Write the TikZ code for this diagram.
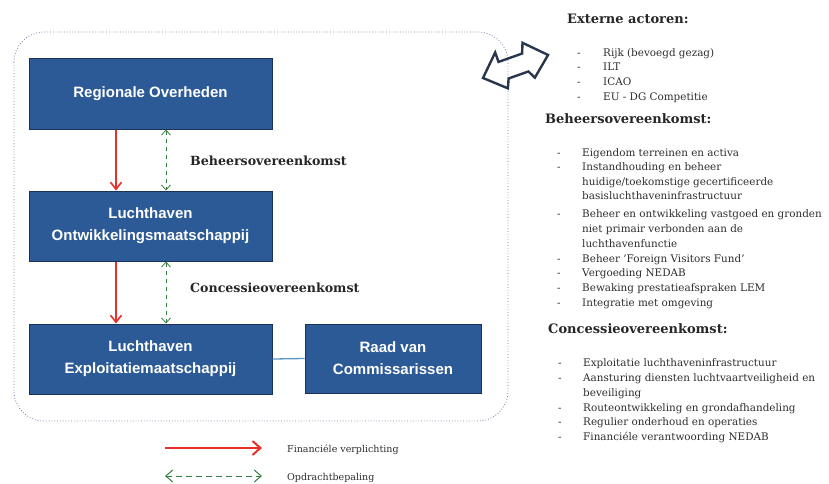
\documentclass[tikz,border=0pt]{standalone}
\usepackage{fontspec}
\setmainfont{DejaVu Serif}
\setsansfont{Liberation Sans}
\usetikzlibrary{arrows.meta}
\definecolor{boxblue}{RGB}{44,90,150}
\definecolor{boxedge}{RGB}{26,50,88}
\definecolor{redarr}{RGB}{232,48,42}
\definecolor{greenarr}{RGB}{52,128,62}
\definecolor{linkblue}{RGB}{90,150,200}
\definecolor{framecol}{RGB}{110,125,160}
\definecolor{txt}{RGB}{45,45,45}
\definecolor{arrowline}{RGB}{40,55,75}
\tikzset{
  orgbox/.style={draw=boxedge, line width=1pt, fill=boxblue, text=white,
    font=\sffamily\bfseries\fontsize{15}{22}\selectfont, align=center, inner sep=0},
  finarrow/.style={draw=redarr, line width=1.6pt, -{Straight Barb[length=7pt,width=11pt,line width=1.6pt]}},
  taskarrow/.style={draw=greenarr, line width=0.8pt, dash pattern=on 4.5pt off 3.5pt,
    {Straight Barb[length=5pt,width=9pt,line width=0.8pt]}-{Straight Barb[length=5pt,width=9pt,line width=0.8pt]}},
  legtask/.style={draw=greenarr, line width=1pt, dash pattern=on 6pt off 4pt,
    {Straight Barb[length=7pt,width=12pt,line width=1pt]}-{Straight Barb[length=7pt,width=12pt,line width=1pt]}},
  head/.style={anchor=base west, inner sep=0, text=black!85, font=\bfseries\fontsize{13}{15}\selectfont},
  lbl/.style={anchor=base west, inner sep=0, text=black!85, font=\bfseries\fontsize{12.6}{15}\selectfont},
  item/.style={anchor=base west, inner sep=0, text=txt, font=\fontsize{10.4}{13}\selectfont},
  legtext/.style={anchor=base west, inner sep=0, text=txt, font=\fontsize{9.5}{11}\selectfont},
}
\begin{document}
\begin{tikzpicture}[x=1pt,y=-1pt]
\useasboundingbox (0,0) rectangle (829,483);

% dotted frame
\draw[framecol, dotted, line width=0.8pt, rounded corners=30pt] (14,32) rectangle (508,421);

% exchange arrow
\begin{scope}[shift={(483,78)}, rotate=19.5]
\draw[arrowline, line width=2.4pt, line join=miter]
  (0,0) -- (20,-20) -- (20,-10) -- (45,-10) -- (49,-20) -- (69,0)
  -- (49,17) -- (45,9) -- (24,9) -- (20,18) -- cycle;
\end{scope}

% boxes
\node[orgbox, minimum width=243pt, minimum height=71pt] (ro) at (150.5,93.5) {Regionale Overheden};
\node[orgbox, minimum width=243pt, minimum height=70pt] (lom) at (150.5,226) {Luchthaven\\Ontwikkelingsmaatschappij};
\node[orgbox, minimum width=243pt, minimum height=70pt] (lem) at (150.5,359) {Luchthaven\\Exploitatiemaatschappij};
\node[orgbox, minimum width=176pt, minimum height=69pt] (rvc) at (393,358.5) {Raad van\\Commissarissen};

% connectors
\draw[linkblue, line width=1.3pt] (lem.east) -- (rvc.west);
\draw[finarrow] ([xshift=-34.5pt]ro.south) -- ([xshift=-34.5pt]lom.north);
\draw[finarrow] ([xshift=-34.5pt]lom.south) -- ([xshift=-34.5pt]lem.north);
\draw[taskarrow] ([xshift=15.5pt]ro.south) -- ([xshift=15.5pt]lom.north);
\draw[taskarrow] ([xshift=15.5pt]lom.south) -- ([xshift=15.5pt]lem.north);

\node[lbl] (lb1) at (190,165) {Beheersovereenkomst};
\node[lbl] (lb2) at (190,292) {Concessieovereenkomst};

% legend
\coordinate (lga) at (165,448);
\coordinate (lgb) at (262,448);
\coordinate (lgc) at (165,476);
\coordinate (lgd) at (262,476);
\draw[draw=redarr, line width=2.4pt, -{Straight Barb[length=8pt,width=14pt,line width=2pt]}] (lga) -- (lgb);
\draw[legtask] (lgc) -- (lgd);
\node[legtext] (lt1) at (287,452) {Financiéle verplichting};
\node[legtext] (lt2) at (287,480) {Opdrachtbepaling};

% right column
\node[head] (h1) at (567,23) {Externe actoren:};
\node[item] (d1) at (577,56) {-}; \node[item] (t1) at (603,56) {Rijk (bevoegd gezag)};
\node[item] (d2) at (577,70) {-}; \node[item] (t2) at (603,70) {ILT};
\node[item] (d3) at (577,85) {-}; \node[item] (t3) at (603,85) {ICAO};
\node[item] (d4) at (577,100) {-}; \node[item] (t4) at (603,100) {EU - DG Competitie};

\node[head] (h2) at (545,123) {Beheersovereenkomst:};
\node[item] (d5) at (557,156) {-}; \node[item] (t5) at (582,156) {Eigendom terreinen en activa};
\node[item] (d6) at (557,170) {-}; \node[item] (t6) at (582,170) {Instandhouding en beheer};
\node[item] (t6b) at (582,185) {huidige/toekomstige gecertificeerde};
\node[item] (t6c) at (582,199) {basisluchthaveninfrastructuur};
\node[item] (d7) at (557,217) {-}; \node[item] (t7) at (582,217) {Beheer en ontwikkeling vastgoed en gronden};
\node[item] (t7b) at (582,232) {niet primair verbonden aan de};
\node[item] (t7c) at (582,247) {luchthavenfunctie};
\node[item] (d8) at (557,262) {-}; \node[item] (t8) at (582,262) {Beheer 'Foreign Visitors Fund'};
\node[item] (d9) at (557,276) {-}; \node[item] (t9) at (582,276) {Vergoeding NEDAB};
\node[item] (d10) at (557,291) {-}; \node[item] (t10) at (582,291) {Bewaking prestatieafspraken LEM};
\node[item] (d11) at (557,306) {-}; \node[item] (t11) at (582,306) {Integratie met omgeving};

\node[head] (h3) at (548,333) {Concessieovereenkomst:};
\node[item] (d12) at (558,366) {-}; \node[item] (t12) at (583,366) {Exploitatie luchthaveninfrastructuur};
\node[item] (d13) at (558,381) {-}; \node[item] (t13) at (583,381) {Aansturing diensten luchtvaartveiligheid en};
\node[item] (t13b) at (583,396) {beveiliging};
\node[item] (d14) at (558,411) {-}; \node[item] (t14) at (583,411) {Routeontwikkeling en grondafhandeling};
\node[item] (d15) at (558,425) {-}; \node[item] (t15) at (583,425) {Regulier onderhoud en operaties};
\node[item] (d16) at (558,440) {-}; \node[item] (t16) at (583,440) {Financiéle verantwoording NEDAB};
\end{tikzpicture}
\end{document}
